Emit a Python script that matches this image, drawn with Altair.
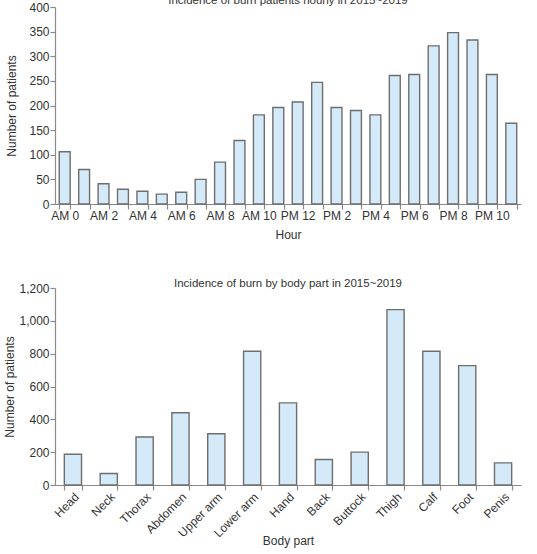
import altair as alt
import pandas as pd

# Hourly counts, 2015~2019
hours = ["AM 0", "AM 1", "AM 2", "AM 3", "AM 4", "AM 5", "AM 6", "AM 7",
         "AM 8", "AM 9", "AM 10", "AM 11", "PM 12", "PM 1", "PM 2", "PM 3",
         "PM 4", "PM 5", "PM 6", "PM 7", "PM 8", "PM 9", "PM 10", "PM 11"]
hour_counts = [106, 70, 41, 30, 26, 20, 24, 50, 85, 129, 181, 196,
               207, 247, 196, 190, 181, 261, 263, 321, 348, 333, 263, 164]

# Counts by body part, 2015~2019
parts = ["Head", "Neck", "Thorax", "Abdomen", "Upper arm", "Lower arm", "Hand",
         "Back", "Buttock", "Thigh", "Calf", "Foot", "Penis"]
part_counts = [187, 70, 292, 440, 312, 815, 500, 155, 200, 1068, 815, 727, 135]

FONT = "Liberation Sans"
FILL = "#d5eaf8"
EDGE = "#6e6e6e"
AXIS_GREY = "#8a8a8a"
TEXT = "#333333"

hour_df = pd.DataFrame({"hour": hours, "count": hour_counts})
part_df = pd.DataFrame({"part": parts, "count": part_counts})

axis_common = dict(
    domainColor=AXIS_GREY, tickColor=AXIS_GREY, labelColor=TEXT, titleColor=TEXT,
    labelFont=FONT, titleFont=FONT, labelFontSize=12, titleFontSize=12,
    titleFontWeight="normal", grid=False, tickSize=5, domainWidth=1.2, tickWidth=1.2,
    labelPadding=1,
)

hourly = alt.Chart(hour_df).mark_bar(
    fill=FILL, stroke=EDGE, strokeWidth=1.4
).encode(
    x=alt.X("hour:N", sort=hours, title="Hour",
            scale=alt.Scale(paddingInner=0.44, paddingOuter=0.22),
            axis=alt.Axis(labelAngle=0, tickBand="extent", titlePadding=8,
                          labelExpr="parseInt(substring(datum.label, 3)) % 2 == 0 ? datum.label : ''",
                          **axis_common)),
    y=alt.Y("count:Q", title="Number of patients",
            scale=alt.Scale(domain=[0, 400]),
            axis=alt.Axis(values=list(range(0, 401, 50)), titlePadding=10, **axis_common)),
).properties(
    width=466, height=197,
    title=alt.TitleParams("Incidence of burn patients hourly in 2015~2019",
                          font=FONT, fontSize=11.5, fontWeight="normal",
                          color=TEXT, offset=-5),
)

by_part = alt.Chart(part_df).mark_bar(
    fill=FILL, stroke=EDGE, strokeWidth=1.4
).encode(
    x=alt.X("part:N", sort=parts, title="Body part",
            scale=alt.Scale(paddingInner=0.52, paddingOuter=0.26),
            axis=alt.Axis(labelAngle=-45, tickBand="extent", titlePadding=-3,
                          **axis_common)),
    y=alt.Y("count:Q", title="Number of patients",
            scale=alt.Scale(domain=[0, 1200]),
            axis=alt.Axis(values=list(range(0, 1201, 200)), format=",d",
                          titlePadding=2, **axis_common)),
).properties(
    width=466, height=197,
    title=alt.TitleParams("Incidence of burn by body part in 2015~2019",
                          font=FONT, fontSize=11.5, fontWeight="normal",
                          color=TEXT, offset=-7),
)

chart = alt.vconcat(hourly, by_part, spacing=37).properties(
    padding={"top": -6, "left": 3, "right": 5, "bottom": 5},
    background="white",
).configure_view(stroke=None)

chart.save("out.html", embed_options={"renderer": "svg", "actions": False})
